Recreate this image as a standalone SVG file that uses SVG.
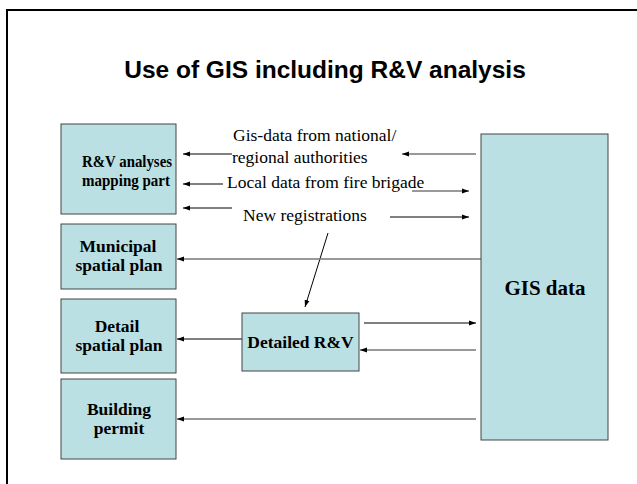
<svg xmlns="http://www.w3.org/2000/svg" width="637" height="484" viewBox="0 0 637 484">
<style>
.box{fill:#BBE0E3;stroke:#444;stroke-width:1}
.bl{font-family:"Liberation Serif","Times New Roman",serif;font-weight:bold;font-size:17.5px;fill:#000;text-anchor:middle}
.big{font-size:21px}
.lbl{font-family:"Liberation Serif","Times New Roman",serif;font-size:17.5px;fill:#000}
.k{stroke:#000;stroke-width:1;fill:none;marker-end:url(#ah)}
.g{stroke:#777;stroke-width:1.6;fill:none;marker-end:url(#ah)}
</style>
<defs>
<marker id="ah" markerUnits="userSpaceOnUse" markerWidth="8" markerHeight="6" refX="7" refY="3" orient="auto">
<path d="M0,0.5 L7,3 L0,5.5 Z" fill="#000"/>
</marker>
</defs>
<rect width="637" height="484" fill="#fff"/>
<path d="M7,490 V10 H640" fill="none" stroke="#000" stroke-width="2"/>
<text x="325" y="78" font-family="'Liberation Sans',Arial,sans-serif" font-weight="bold" font-size="24.5" text-anchor="middle">Use of GIS including R&amp;V analysis</text>

<g id="connectors">
<line class="g" x1="476" y1="154" x2="402" y2="154"/>
<line class="k" x1="232" y1="154" x2="183" y2="154"/>
<line class="k" x1="223" y1="184" x2="183" y2="184"/>
<line class="g" x1="412" y1="191" x2="469" y2="191"/>
<line class="k" x1="232" y1="208" x2="183" y2="208"/>
<line class="k" x1="390" y1="217" x2="469" y2="217"/>
<line class="k" x1="328" y1="233" x2="305" y2="307"/>
<line class="g" x1="481" y1="259" x2="177" y2="259"/>
<line class="k" x1="242" y1="339" x2="177" y2="339"/>
<line class="k" x1="364" y1="323" x2="476" y2="323"/>
<line class="g" x1="476" y1="350" x2="360" y2="350"/>
<line class="g" x1="476" y1="419" x2="177" y2="419"/>
<text class="lbl" x="233" y="141">Gis-data from national/</text>
<text class="lbl" x="232" y="163">regional authorities</text>
<text class="lbl" x="227" y="188">Local data from fire brigade</text>
<text class="lbl" x="243" y="221">New registrations</text>
</g>

<g id="rv-analyses">
<rect class="box" x="61" y="124" width="115" height="90"/>
<text class="bl" x="127" y="167" textLength="90" lengthAdjust="spacingAndGlyphs">R&amp;V analyses</text>
<text class="bl" x="126" y="186" textLength="88" lengthAdjust="spacingAndGlyphs">mapping part</text>
</g>
<g id="municipal">
<rect class="box" x="61" y="224" width="115" height="65"/>
<text class="bl" x="118" y="252">Municipal</text>
<text class="bl" x="119" y="271">spatial plan</text>
</g>
<g id="detail-plan">
<rect class="box" x="61" y="299" width="115" height="74"/>
<text class="bl" x="117" y="332">Detail</text>
<text class="bl" x="119" y="351">spatial plan</text>
</g>
<g id="building">
<rect class="box" x="61" y="379" width="115" height="80"/>
<text class="bl" x="119" y="415">Building</text>
<text class="bl" x="119" y="434">permit</text>
</g>
<g id="detailed-rv">
<rect class="box" x="242" y="313" width="117" height="58"/>
<text class="bl" x="300.5" y="348">Detailed R&amp;V</text>
</g>
<g id="gis">
<rect class="box" x="481" y="134" width="127" height="306"/>
<text class="bl big" x="545" y="295">GIS data</text>
</g>
</svg>
